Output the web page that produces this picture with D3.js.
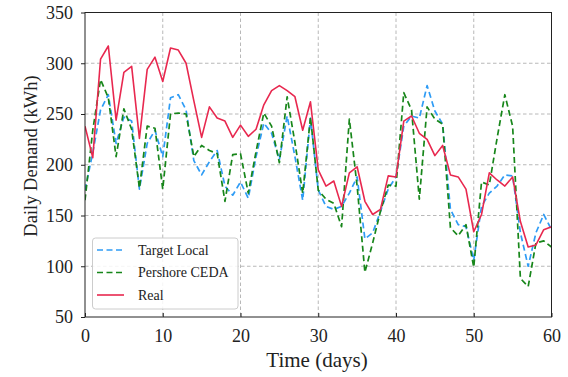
<!DOCTYPE html>
<html>
<head>
<meta charset="utf-8">
<script src="https://cdn.jsdelivr.net/npm/d3@7"></script>
<style>
  html, body { margin: 0; padding: 0; background: #fff; }
  svg { display: block; }
  svg text { font-family: 'Liberation Serif', 'Times New Roman', Times, serif; }
</style>
</head>
<body>
<svg id="chart" width="568" height="377"></svg>
<script>
const days = d3.range(0, 61);
const xTicks = [0, 10, 20, 30, 40, 50, 60];
const yTicks = [50, 100, 150, 200, 250, 300, 350];

const targetLocal = [175, 212, 254, 269, 221, 247, 243, 176, 221, 234, 208, 266, 269, 254, 204, 190, 203, 214, 179, 170, 183, 167, 208, 241, 231, 205, 248, 208, 165, 246, 175, 159, 156, 159, 172, 188, 127, 133, 154, 176, 188, 238, 248, 246, 278, 253, 240, 156, 141, 139, 106, 159, 172, 179, 190, 189, 133, 100, 133, 151, 136];
const pershoreCEDA = [165, 234, 284, 266, 208, 255, 235, 177, 238, 236, 176, 250, 251, 250, 208, 219, 214, 211, 164, 210, 211, 172, 213, 251, 238, 202, 267, 222, 172, 247, 175, 166, 162, 139, 245, 179, 94, 123, 154, 180, 179, 271, 254, 166, 257, 245, 240, 138, 130, 141, 99, 183, 180, 226, 269, 238, 88, 80, 123, 125, 119];
const real = [238, 207, 304, 317, 244, 291, 297, 226, 294, 306, 282, 315, 313, 300, 263, 227, 257, 246, 243, 227, 239, 228, 235, 259, 273, 278, 273, 267, 234, 262, 195, 179, 184, 159, 192, 198, 164, 151, 156, 189, 188, 243, 248, 231, 225, 209, 219, 190, 188, 176, 134, 151, 192, 185, 179, 188, 144, 119, 121, 136, 139];

const seriesNames = ["Target Local", "Pershore CEDA", "Real"];
const seriesColors = ["#2f9cf5", "#17861a", "#e8284f"];

const series = [
  { name: seriesNames[0], values: targetLocal, color: seriesColors[0], dash: "6,3.5", width: 1.7 },
  { name: seriesNames[1], values: pershoreCEDA, color: seriesColors[1], dash: "6,3.5", width: 1.7 },
  { name: seriesNames[2], values: real, color: seriesColors[2], dash: null, width: 1.6 }
];

const FONT = "'Liberation Serif', 'Times New Roman', Times, serif";
const svg = d3.select("#chart");
const L = 85, R = 551.5, T = 12.5, B = 317;

const x = d3.scaleLinear().domain([0, 60]).range([L, R]);
const y = d3.scaleLinear().domain([50, 350]).range([B, T]);

// grid
const grid = svg.append("g");
grid.selectAll("line.gx").data(xTicks.slice(1, -1)).enter().append("line")
  .attr("x1", d => x(d)).attr("x2", d => x(d)).attr("y1", T).attr("y2", B)
  .attr("stroke", "#b0b0b0").attr("stroke-width", 0.9).attr("stroke-dasharray", "3.5,2.5");
grid.selectAll("line.gy").data(yTicks.slice(1, -1)).enter().append("line")
  .attr("x1", L).attr("x2", R).attr("y1", d => y(d)).attr("y2", d => y(d))
  .attr("stroke", "#b0b0b0").attr("stroke-width", 0.9).attr("stroke-dasharray", "3.5,2.5");

// clip
svg.append("clipPath").attr("id", "clip").append("rect")
  .attr("x", L).attr("y", T).attr("width", R - L).attr("height", B - T);

const line = d3.line().x((d, i) => x(days[i])).y(d => y(d));
const plot = svg.append("g").attr("clip-path", "url(#clip)");
series.forEach(s => {
  plot.append("path").datum(s.values)
    .attr("d", line)
    .attr("fill", "none")
    .attr("stroke", s.color)
    .attr("stroke-width", s.width)
    .attr("stroke-dasharray", s.dash)
    .attr("stroke-linejoin", "round");
});

// frame
svg.append("rect").attr("x", L).attr("y", T).attr("width", R - L).attr("height", B - T)
  .attr("fill", "none").attr("stroke", "#222").attr("stroke-width", 1);

// axes
const xAxis = svg.append("g").attr("transform", `translate(0,${B})`)
  .call(d3.axisBottom(x).tickValues(xTicks).tickSize(-4).tickPadding(9).tickFormat(d3.format("d")));
const yAxis = svg.append("g").attr("transform", `translate(${L},0)`)
  .call(d3.axisLeft(y).tickValues(yTicks).tickSize(4).tickPadding(8).tickFormat(d3.format("d")));
[xAxis, yAxis].forEach(a => {
  a.attr("font-family", FONT).attr("font-size", 18);
  a.select(".domain").remove();
  a.selectAll(".tick line").attr("stroke", "#222").attr("stroke-width", 1);
  a.selectAll(".tick text").attr("fill", "#222").attr("font-size", 18).style("font-family", FONT);
});
xAxis.selectAll(".tick text").attr("dy", "0.71em").attr("y", 12);

// axis labels
svg.append("text").attr("x", 317).attr("y", 367).attr("text-anchor", "middle")
  .style("font-family", FONT).attr("font-size", 21).attr("fill", "#222").text("Time (days)");
svg.append("text").attr("transform", "translate(37,156) rotate(-90)").attr("text-anchor", "middle")
  .style("font-family", FONT).attr("font-size", 18.5).attr("fill", "#222").text("Daily Demand (kWh)");

// legend
const lg = svg.append("g");
lg.append("rect").attr("x", 92.5).attr("y", 238).attr("width", 145.5).attr("height", 71)
  .attr("rx", 3).attr("fill", "#fff").attr("fill-opacity", 0.85)
  .attr("stroke", "#cccccc").attr("stroke-width", 1);
series.forEach((s, i) => {
  const yy = 250 + i * 22.5;
  lg.append("line").attr("x1", 97).attr("x2", 124).attr("y1", yy).attr("y2", yy)
    .attr("stroke", s.color).attr("stroke-width", s.width).attr("stroke-dasharray", s.dash);
  lg.append("text").attr("x", 138).attr("y", yy).attr("dy", "0.35em")
    .style("font-family", FONT).attr("font-size", 14).attr("fill", "#222").text(s.name);
});
</script>
</body>
</html>
